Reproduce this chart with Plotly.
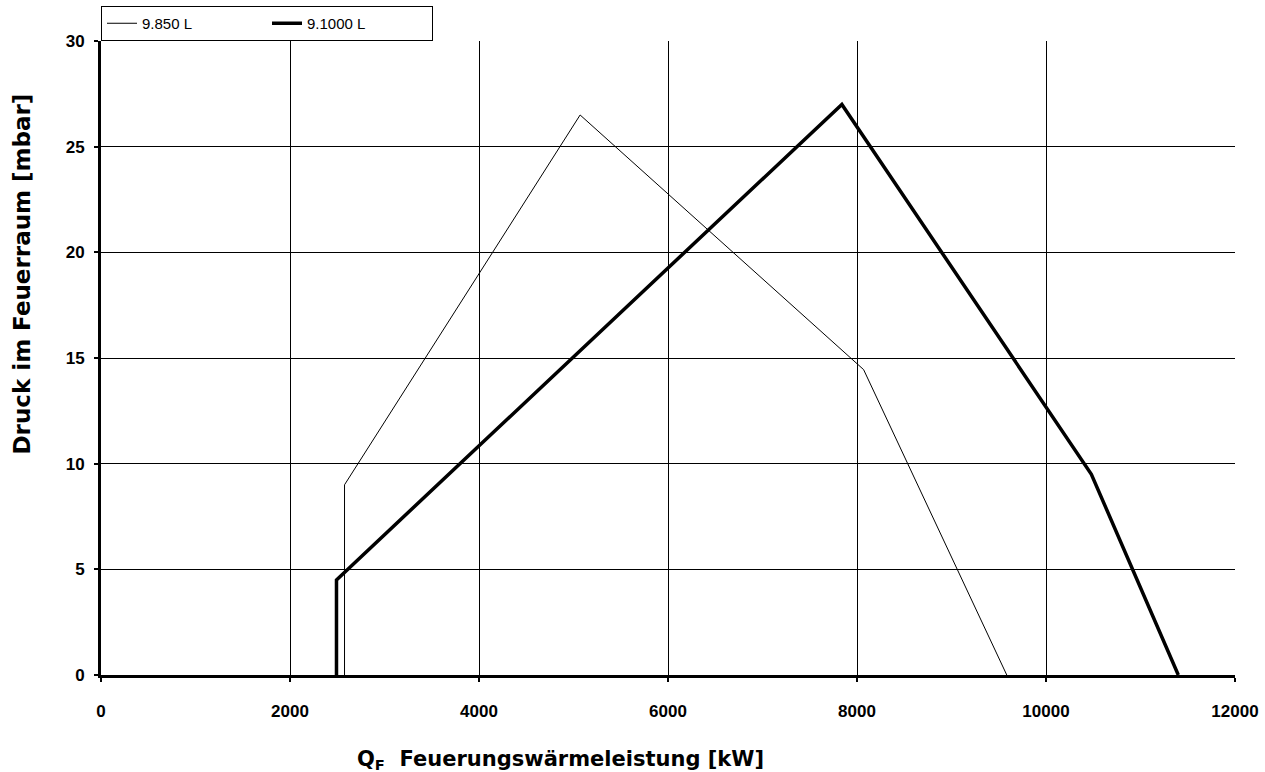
import plotly.graph_objects as go

# Data
thin_name = "9.850 L"
thin_x = [2577, 2577, 5070, 8070, 9585]
thin_y = [0, 9.0, 26.5, 14.45, 0]

thick_name = "9.1000 L"
thick_x = [2492, 2492, 7840, 10480, 11400]
thick_y = [0, 4.5, 27.0, 9.5, 0]

x_ticks = [0, 2000, 4000, 6000, 8000, 10000, 12000]
y_ticks = [0, 5, 10, 15, 20, 25, 30]

FONT = "Liberation Sans, Arial, sans-serif"
TITLE_FONT = "DejaVu Sans, sans-serif"

fig = go.Figure()
fig.add_trace(go.Scatter(x=thin_x, y=thin_y, mode="lines", name=thin_name,
                         line=dict(color="black", width=1)))
fig.add_trace(go.Scatter(x=thick_x, y=thick_y, mode="lines", name=thick_name,
                         line=dict(color="black", width=3.5)))

fig.update_layout(
    width=1265, height=772,
    margin=dict(l=101, r=30, t=41, b=97, autoexpand=False),
    paper_bgcolor="white", plot_bgcolor="white",
    font=dict(family=FONT, color="black"),
    showlegend=True,
    legend=dict(orientation="h", x=0, xanchor="left", y=1, yanchor="bottom",
                bgcolor="white", bordercolor="black", borderwidth=1,
                font=dict(family=FONT, size=15, color="black"),
                entrywidth=120, entrywidthmode="pixels"),
)
fig.update_xaxes(
    range=[0, 12000], tickvals=x_ticks, ticktext=[f"<b>{v}</b>" for v in x_ticks],
    showgrid=True, gridcolor="black", gridwidth=1,
    showline=True, linecolor="black", linewidth=3,
    ticks="outside", ticklen=4, tickwidth=2, tickcolor="black",
    tickfont=dict(family=FONT, size=17, color="black"),
    ticklabelstandoff=15, zeroline=False, automargin=False,
)
fig.update_yaxes(
    range=[0, 30], tickvals=y_ticks, ticktext=[f"<b>{v}</b>" for v in y_ticks],
    showgrid=True, gridcolor="black", gridwidth=1,
    showline=True, linecolor="black", linewidth=3,
    ticks="outside", ticklen=4, tickwidth=2, tickcolor="black",
    tickfont=dict(family=FONT, size=17, color="black"),
    ticklabelstandoff=6, zeroline=False, automargin=False,
)
fig.add_annotation(text="<b>Druck im Feuerraum [mbar]</b>", xref="paper", yref="paper",
                   x=(22 - 101) / 1134, y=(675 - 457) / 634, textangle=-90, showarrow=False,
                   xanchor="center", yanchor="bottom",
                   font=dict(family=TITLE_FONT, size=23, color="black"))
fig.add_annotation(text="<b>Q<sub>F</sub>  Feuerungswärmeleistung [kW]</b>", xref="paper", yref="paper",
                   x=(355 - 101) / 1134, y=(675 - 760) / 634, showarrow=False,
                   xanchor="left", yanchor="middle",
                   font=dict(family=TITLE_FONT, size=21, color="black"))

fig.write_html("out.html", config={"displayModeBar": False},
               post_script="document.body.style.margin='0';")
